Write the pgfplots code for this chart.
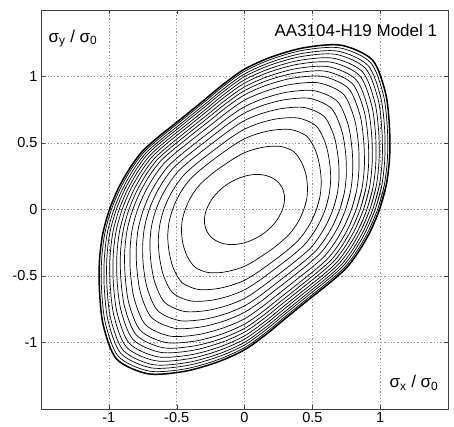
\documentclass[border=0pt]{standalone}
\usepackage{pgfplots}
\pgfplotsset{compat=1.18}
\usepackage{pgfplotstable}
\usepackage{fontspec}
\setmainfont{Liberation Sans}

% polar angle t (deg) and radius of each contour r1 (innermost) ... r17 (yield locus)
\pgfplotstableread{
t   r1    r2    r3    r4    r5    r6    r7    r8    r9    r10   r11   r12   r13   r14   r15   r16   r17
-10 0.263 0.413 0.501 0.562 0.616 0.664 0.705 0.745 0.779 0.806 0.830 0.854 0.874 0.894 0.911 0.928 0.942
0   0.280 0.437 0.530 0.595 0.652 0.702 0.745 0.788 0.823 0.852 0.877 0.902 0.924 0.945 0.963 0.981 0.995
10  0.298 0.466 0.565 0.633 0.695 0.748 0.794 0.840 0.878 0.908 0.935 0.962 0.985 1.008 1.027 1.046 1.061
20  0.313 0.494 0.602 0.676 0.742 0.799 0.849 0.898 0.940 0.973 1.001 1.030 1.055 1.080 1.100 1.121 1.138
30  0.322 0.523 0.641 0.723 0.796 0.860 0.915 0.970 1.015 1.052 1.084 1.116 1.143 1.170 1.193 1.216 1.234
40  0.322 0.550 0.685 0.778 0.861 0.933 0.996 1.058 1.110 1.151 1.187 1.223 1.254 1.286 1.311 1.337 1.358
50  0.313 0.567 0.717 0.821 0.913 0.994 1.063 1.133 1.190 1.236 1.277 1.317 1.352 1.386 1.415 1.444 1.467
60  0.298 0.546 0.693 0.794 0.885 0.964 1.031 1.099 1.155 1.200 1.240 1.279 1.313 1.347 1.375 1.403 1.426
70  0.281 0.504 0.636 0.727 0.808 0.879 0.940 1.001 1.052 1.092 1.128 1.163 1.194 1.224 1.249 1.275 1.295
80  0.264 0.462 0.580 0.661 0.733 0.796 0.850 0.904 0.950 0.986 1.017 1.049 1.076 1.103 1.125 1.148 1.166
90  0.250 0.427 0.532 0.604 0.669 0.725 0.773 0.822 0.862 0.894 0.922 0.950 0.975 0.999 1.019 1.039 1.055
100 0.239 0.395 0.488 0.552 0.608 0.658 0.701 0.743 0.779 0.807 0.832 0.857 0.878 0.899 0.917 0.935 0.949
110 0.232 0.373 0.457 0.515 0.566 0.611 0.649 0.688 0.720 0.746 0.768 0.791 0.810 0.829 0.845 0.861 0.874
120 0.229 0.362 0.441 0.495 0.544 0.586 0.623 0.659 0.690 0.714 0.735 0.756 0.774 0.793 0.808 0.823 0.835
130 0.229 0.360 0.437 0.491 0.538 0.580 0.616 0.651 0.681 0.705 0.726 0.747 0.765 0.782 0.797 0.812 0.824
140 0.232 0.365 0.444 0.499 0.547 0.590 0.626 0.663 0.693 0.717 0.738 0.760 0.778 0.796 0.811 0.826 0.839
150 0.239 0.378 0.460 0.517 0.568 0.612 0.650 0.688 0.719 0.745 0.767 0.789 0.808 0.827 0.843 0.858 0.871
160 0.250 0.393 0.478 0.536 0.588 0.634 0.673 0.712 0.745 0.771 0.794 0.816 0.836 0.855 0.872 0.888 0.901
170 0.263 0.413 0.501 0.562 0.616 0.664 0.705 0.745 0.779 0.806 0.830 0.854 0.874 0.894 0.911 0.928 0.942
180 0.280 0.437 0.530 0.595 0.652 0.702 0.745 0.788 0.823 0.852 0.877 0.902 0.924 0.945 0.963 0.981 0.995
190 0.298 0.466 0.565 0.633 0.695 0.748 0.794 0.840 0.878 0.908 0.935 0.962 0.985 1.008 1.027 1.046 1.061
200 0.313 0.494 0.602 0.676 0.742 0.799 0.849 0.898 0.940 0.973 1.001 1.030 1.055 1.080 1.100 1.121 1.138
210 0.322 0.523 0.641 0.723 0.796 0.860 0.915 0.970 1.015 1.052 1.084 1.116 1.143 1.170 1.193 1.216 1.234
220 0.322 0.550 0.685 0.778 0.861 0.933 0.996 1.058 1.110 1.151 1.187 1.223 1.254 1.286 1.311 1.337 1.358
230 0.313 0.567 0.717 0.821 0.913 0.994 1.063 1.133 1.190 1.236 1.277 1.317 1.352 1.386 1.415 1.444 1.467
240 0.298 0.546 0.693 0.794 0.885 0.964 1.031 1.099 1.155 1.200 1.240 1.279 1.313 1.347 1.375 1.403 1.426
250 0.281 0.504 0.636 0.727 0.808 0.879 0.940 1.001 1.052 1.092 1.128 1.163 1.194 1.224 1.249 1.275 1.295
260 0.264 0.462 0.580 0.661 0.733 0.796 0.850 0.904 0.950 0.986 1.017 1.049 1.076 1.103 1.125 1.148 1.166
270 0.250 0.427 0.532 0.604 0.669 0.725 0.773 0.822 0.862 0.894 0.922 0.950 0.975 0.999 1.019 1.039 1.055
280 0.239 0.395 0.488 0.552 0.608 0.658 0.701 0.743 0.779 0.807 0.832 0.857 0.878 0.899 0.917 0.935 0.949
290 0.232 0.373 0.457 0.515 0.566 0.611 0.649 0.688 0.720 0.746 0.768 0.791 0.810 0.829 0.845 0.861 0.874
300 0.229 0.362 0.441 0.495 0.544 0.586 0.623 0.659 0.690 0.714 0.735 0.756 0.774 0.793 0.808 0.823 0.835
310 0.229 0.360 0.437 0.491 0.538 0.580 0.616 0.651 0.681 0.705 0.726 0.747 0.765 0.782 0.797 0.812 0.824
320 0.232 0.365 0.444 0.499 0.547 0.590 0.626 0.663 0.693 0.717 0.738 0.760 0.778 0.796 0.811 0.826 0.839
330 0.239 0.378 0.460 0.517 0.568 0.612 0.650 0.688 0.719 0.745 0.767 0.789 0.808 0.827 0.843 0.858 0.871
340 0.250 0.393 0.478 0.536 0.588 0.634 0.673 0.712 0.745 0.771 0.794 0.816 0.836 0.855 0.872 0.888 0.901
350 0.263 0.413 0.501 0.562 0.616 0.664 0.705 0.745 0.779 0.806 0.830 0.854 0.874 0.894 0.911 0.928 0.942
360 0.280 0.437 0.530 0.595 0.652 0.702 0.745 0.788 0.823 0.852 0.877 0.902 0.924 0.945 0.963 0.981 0.995
370 0.298 0.466 0.565 0.633 0.695 0.748 0.794 0.840 0.878 0.908 0.935 0.962 0.985 1.008 1.027 1.046 1.061
}\contours

\begin{document}
\begin{tikzpicture}
\begin{axis}[
  scale only axis, width=407pt, height=399pt,
  xmin=-1.5, xmax=1.5, ymin=-1.5, ymax=1.5,
  xtick={-1,-0.5,0,0.5,1}, ytick={-1,-0.5,0,0.5,1},
  xticklabels={-1,-0.5,0,0.5,1}, yticklabels={-1,-0.5,0,0.5,1},
  ticklabel style={font=\fontsize{14.5}{16}\selectfont},
  grid=major,
  major grid style={gray!85, dash pattern=on 1.3pt off 2pt, line width=0.5pt},
  axis line style={black!75, line width=0.8pt},
  tick style={black!75}, major tick length=4pt, tick align=inside,
]
\pgfplotsinvokeforeach{1,...,16}{
  \addplot[black, line width=0.7pt, smooth, data cs=polar] table[x=t, y=r#1] {\contours};
}
\addplot[black, line width=1.5pt, smooth, data cs=polar] table[x=t, y=r17] {\contours};

\node[anchor=west, font=\fontsize{17}{20}\selectfont] at (rel axis cs:0.01,0.928) {σ\textsubscript{y} / σ\textsubscript{0}};
\node[anchor=east, font=\fontsize{17}{20}\selectfont] at (rel axis cs:0.982,0.95) {AA3104-H19 Model 1};
\node[anchor=east, font=\fontsize{17}{20}\selectfont] at (rel axis cs:0.985,0.065) {σ\textsubscript{x} / σ\textsubscript{0}};
\end{axis}
\pgfresetboundingbox
\path[use as bounding box] (-41pt,-17pt) rectangle (413pt,409pt);
\end{tikzpicture}
\end{document}
